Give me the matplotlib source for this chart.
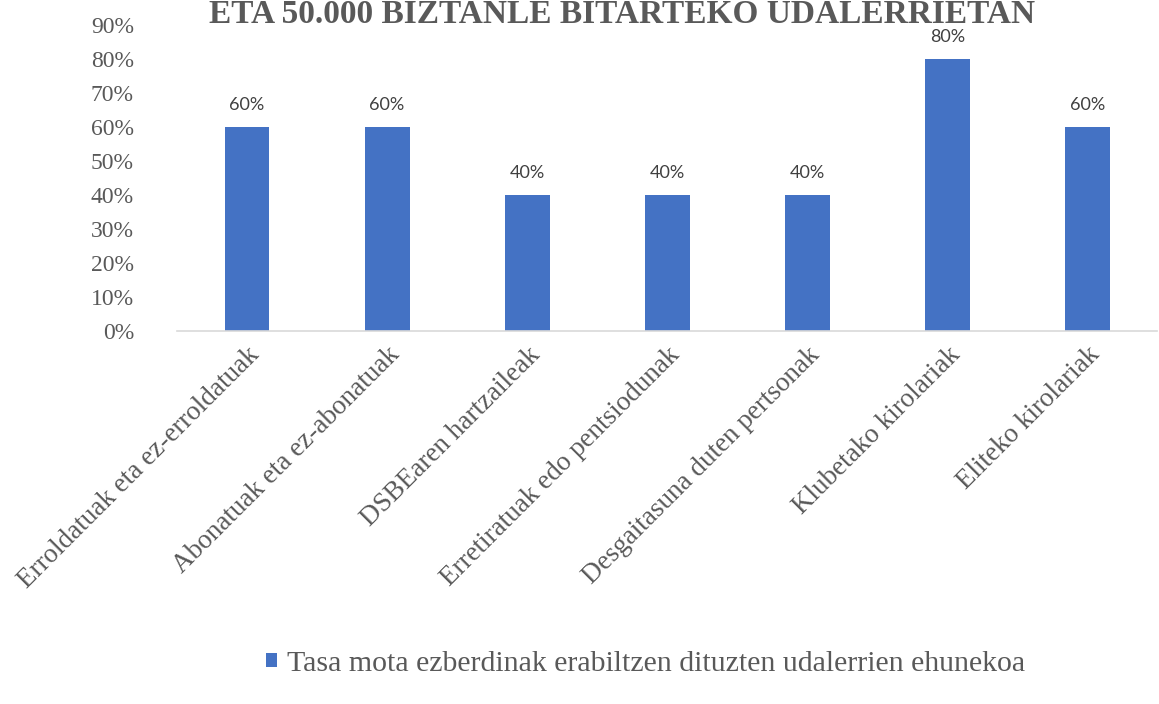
import matplotlib.pyplot as plt
from matplotlib.ticker import PercentFormatter

categories = [
    "Erroldatuak eta ez-erroldatuak",
    "Abonatuak eta ez-abonatuak",
    "DSBEaren hartzaileak",
    "Erretiratuak edo pentsiodunak",
    "Desgaitasuna duten pertsonak",
    "Klubetako kirolariak",
    "Eliteko kirolariak",
]
values = [60, 60, 40, 40, 40, 80, 60]
series_name = "Tasa mota ezberdinak erabiltzen dituzten udalerrien ehunekoa"
title = "ETA 50.000 BIZTANLE BITARTEKO UDALERRIETAN"

blue = "#4472C4"
gray = "#595959"
serif = ["Liberation Serif", "DejaVu Serif"]

fig = plt.figure(figsize=(11.59, 7.04), dpi=100)
ax = fig.add_axes([0.1527, 0.5298, 0.846, 0.4347])

x = range(len(categories))
bars = ax.bar(x, values, width=0.32, color=blue, label=series_name, zorder=2)

for b, v in zip(bars, values):
    ax.text(b.get_x() + b.get_width() / 2, v + 6.6, f"{v}%", ha="center", va="center",
            fontsize=13, color="#404040", family=["Lato", "DejaVu Sans"])

ax.set_ylim(0, 90)
ax.set_xlim(-0.5, len(categories) - 0.5)
ax.set_yticks(range(0, 91, 10))
ax.yaxis.set_major_formatter(PercentFormatter(decimals=0))
for s in ["top", "right", "left"]:
    ax.spines[s].set_visible(False)
ax.spines["bottom"].set_color("#D9D9D9")
ax.spines["bottom"].set_linewidth(1.2)
ax.tick_params(axis="both", length=0, colors=gray)
ax.tick_params(axis="y", pad=31)
ax.tick_params(axis="x", pad=8)
ax.set_xticks(list(x))
ax.set_xticklabels(categories, rotation=45, ha="right", rotation_mode="anchor",
                   family=serif, fontsize=19.5, color=gray)
for lab in ax.get_yticklabels():
    lab.set_family(serif)
    lab.set_fontsize(17)

fig.text(0.537, 0.967, title, ha="center", va="baseline", fontsize=24,
         fontweight="bold", color=gray, family=serif)

handles, labels = ax.get_legend_handles_labels()
fig.legend(handles, labels, loc="center", bbox_to_anchor=(0.557, 0.057), frameon=False,
           handlelength=0.36, handleheight=0.36, handletextpad=0.35,
           prop={"family": serif, "size": 21.5}, labelcolor=gray)

fig.savefig("out.png", dpi=100)
